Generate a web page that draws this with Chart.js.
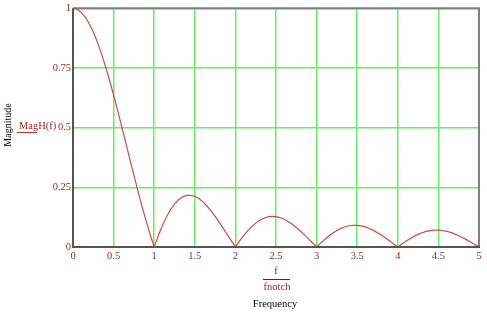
<!DOCTYPE html>
<html><head><meta charset="utf-8">
<script src="https://cdn.jsdelivr.net/npm/chart.js@4"></script>
<style>html,body{margin:0;padding:0;background:#fff;}canvas{display:block;}</style>
</head><body>
<canvas id="c" width="487" height="313"></canvas>
<script>
const freqRatio = [0,0.05,0.1,0.15,0.2,0.25,0.3,0.35,0.4,0.45,0.5,0.55,0.6,0.65,0.7,0.75,0.8,0.85,0.9,0.95,
1,1.05,1.1,1.15,1.2,1.25,1.3,1.35,1.4,1.45,1.5,1.55,1.6,1.65,1.7,1.75,1.8,1.85,1.9,1.95,
2,2.05,2.1,2.15,2.2,2.25,2.3,2.35,2.4,2.45,2.5,2.55,2.6,2.65,2.7,2.75,2.8,2.85,2.9,2.95,
3,3.05,3.1,3.15,3.2,3.25,3.3,3.35,3.4,3.45,3.5,3.55,3.6,3.65,3.7,3.75,3.8,3.85,3.9,3.95,
4,4.05,4.1,4.15,4.2,4.25,4.3,4.35,4.4,4.45,4.5,4.55,4.6,4.65,4.7,4.75,4.8,4.85,4.9,4.95,5];
const magH = [1,0.9959,0.9836,0.9634,0.9355,0.9003,0.8584,0.8103,0.7568,0.6987,0.6366,0.5716,0.5046,0.4363,0.3679,0.3001,0.2339,0.1700,0.1093,0.0524,
0,0.0474,0.0894,0.1257,0.1559,0.1801,0.1981,0.2101,0.2162,0.2168,0.2122,0.2028,0.1892,0.1719,0.1515,0.1286,0.1039,0.0781,0.0518,0.0255,
0,0.0243,0.0468,0.0672,0.0850,0.1000,0.1120,0.1207,0.1261,0.1283,0.1273,0.1233,0.1164,0.1070,0.0954,0.0818,0.0668,0.0507,0.0339,0.0169,
0,0.0163,0.0317,0.0459,0.0585,0.0693,0.0780,0.0847,0.0890,0.0911,0.0909,0.0886,0.0841,0.0777,0.0696,0.0600,0.0492,0.0375,0.0252,0.0126,
0,0.0123,0.0240,0.0348,0.0445,0.0530,0.0599,0.0652,0.0688,0.0707,0.0707,0.0691,0.0658,0.0610,0.0548,0.0474,0.0390,0.0298,0.0201,0.0101,0];
const xTicks = [0,0.5,1,1.5,2,2.5,3,3.5,4,4.5,5];
const yTicks = [0,0.25,0.5,0.75,1];
const seriesLabel = 'MagH(f)';
const yTitle = 'Magnitude';
const xTitleNum = 'f';
const xTitleDen = 'fnotch';
const xTitle = 'Frequency';

const tickColor = '#8b2a2a';
const serif = '"Liberation Serif", "DejaVu Serif", serif';

const textPlugin = {
  id: 'texts',
  afterDraw(chart) {
    const ctx = chart.ctx;
    const a = chart.chartArea;
    ctx.save();
    ctx.strokeStyle = '#808080';
    ctx.lineWidth = 2;
    ctx.beginPath();
    ctx.moveTo(a.left, a.top); ctx.lineTo(a.right, a.top); ctx.lineTo(a.right, a.bottom);
    ctx.stroke();
    ctx.strokeStyle = '#555';
    ctx.lineWidth = 2;
    ctx.beginPath();
    ctx.moveTo(a.left, a.top); ctx.lineTo(a.left, a.bottom); ctx.lineTo(a.right + 1, a.bottom);
    ctx.stroke();
    ctx.fillStyle = '#000';
    ctx.font = '10px ' + serif;
    ctx.textAlign = 'center';
    ctx.textBaseline = 'middle';
    ctx.save();
    ctx.translate(8, 125);
    ctx.rotate(-Math.PI / 2);
    ctx.fillText(yTitle, 0, 0);
    ctx.restore();
    ctx.fillStyle = tickColor;
    ctx.font = '10.5px ' + serif;
    ctx.textAlign = 'left';
    ctx.fillText(seriesLabel, 19, 126);
    ctx.strokeStyle = '#cc3333';
    ctx.lineWidth = 1.2;
    ctx.beginPath(); ctx.moveTo(17, 132.5); ctx.lineTo(37, 132.5); ctx.stroke();
    ctx.textAlign = 'center';
    ctx.fillText(xTitleNum, 276, 271);
    ctx.fillText(xTitleDen, 277, 287);
    ctx.strokeStyle = '#333';
    ctx.lineWidth = 1;
    ctx.beginPath(); ctx.moveTo(263, 279.5); ctx.lineTo(290, 279.5); ctx.stroke();
    ctx.fillStyle = '#000';
    ctx.fillText(xTitle, 275, 304);
    ctx.restore();
  }
};

new Chart(document.getElementById('c'), {
  type: 'line',
  data: {
    datasets: [{
      label: seriesLabel,
      data: freqRatio.map((x, i) => ({x: x, y: magH[i]})),
      borderColor: '#d04848',
      borderWidth: 1.2,
      pointRadius: 0,
      tension: 0,
      fill: false
    }]
  },
  options: {
    responsive: false,
    animation: false,
    devicePixelRatio: 1,
    layout: { padding: { top: 5, right: 8, left: 0, bottom: 0 } },
    plugins: { legend: { display: false }, tooltip: { enabled: false } },
    scales: {
      x: {
        type: 'linear', min: 0, max: 5,
        afterFit(s) { s.height = 66; },
        afterBuildTicks(s) { s.ticks = xTicks.map(v => ({value: v})); },
        ticks: { color: tickColor, font: { family: serif, size: 10.5 }, padding: 3, maxRotation: 0, autoSkip: false,
                 callback: v => String(v) },
        grid: { color: '#66ee66', lineWidth: 1.5, drawTicks: false },
        border: { display: false }
      },
      y: {
        min: 0, max: 1,
        afterFit(s) { s.width = 73; },
        afterBuildTicks(s) { s.ticks = yTicks.map(v => ({value: v})); },
        ticks: { color: tickColor, font: { family: serif, size: 10.5 }, padding: 2, autoSkip: false,
                 callback: v => String(v) },
        grid: { color: '#66ee66', lineWidth: 1.5, drawTicks: false },
        border: { display: false }
      }
    }
  },
  plugins: [textPlugin]
});
</script>
</body></html>
